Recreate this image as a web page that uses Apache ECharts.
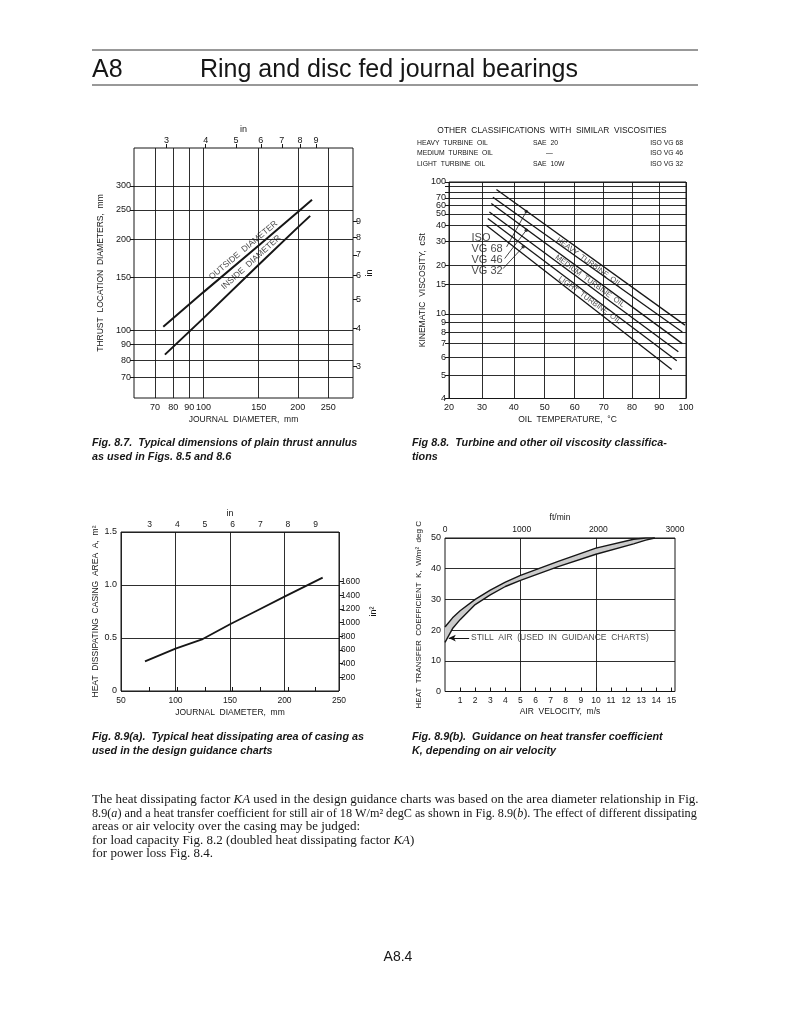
<!DOCTYPE html>
<html><head><meta charset="utf-8">
<script src="https://cdn.jsdelivr.net/npm/echarts@6/dist/echarts.min.js"></script>
<style>html,body{margin:0;padding:0;background:#fff}#c{width:797px;height:1024px}</style>
</head><body><div id="c"></div>
<script>
// ---------- Fig. 8.7 : thrust annulus (log-log) ----------
const f87_xTicks = [70, 80, 90, 100, 150, 200, 250];
const f87_yTicks = [70, 80, 90, 100, 150, 200, 250, 300];
const f87_inchTicks = [3, 4, 5, 6, 7, 8, 9];
const f87_outsideJournal = [74.4, 100, 150, 200, 222];
const f87_outsideDia = [103, 134, 191, 246, 270];
const f87_insideJournal = [75.3, 100, 150, 200, 219];
const f87_insideDia = [83.4, 110, 165, 219, 239];

// ---------- Fig. 8.8 : viscosity (ASTM chart) ----------
const f88_tempTicks = [20, 30, 40, 50, 60, 70, 80, 90, 100];
const f88_viscTicks = [4, 5, 6, 7, 8, 9, 10, 15, 20, 30, 40, 50, 60, 70, 80, 90, 100];
const f88_viscLabels = [4, 5, 6, 7, 8, 9, 10, 15, 20, 30, 40, 50, 60, 70, 100];
const f88_heavyUpper = [[34.5, 84], [99.6, 8.7]];
const f88_heavyLower = [[33.4, 71], [98.6, 8.0]];
const f88_mediumUpper = [[32.9, 62], [98.6, 7.0]];
const f88_mediumLower = [[32.3, 52], [97.1, 6.4]];
const f88_lightUpper = [[31.8, 45.6], [96.5, 5.8]];
const f88_lightLower = [[31.3, 40], [94.6, 5.3]];
const f88_isoDots = [[44, 52.5], [44, 36.5], [43, 27.1]];
const f88_leaderStarts = [[37.7, 27.1], [37.1, 22.3], [36.6, 19.0]];

// ---------- Fig. 8.9(a) : casing area ----------
const f89a_journal = [72, 100, 125, 150, 175, 200, 235];
const f89a_area = [0.28, 0.40, 0.49, 0.63, 0.76, 0.89, 1.07];
const f89a_inchTicks = [3, 4, 5, 6, 7, 8, 9];
const f89a_in2Ticks = [200, 400, 600, 800, 1000, 1200, 1400, 1600];

// ---------- Fig. 8.9(b) : heat transfer coefficient ----------
const f89b_velocity = [0, 0.5, 1, 2, 3, 4, 5, 7.5, 10, 12.5, 13.3, 13.9];
const f89b_upper = [21, 24, 26.3, 30, 33, 35.6, 37.8, 42.4, 46.7, 49.6, 50, 50];
const f89b_lower = [16, 20.5, 23.4, 28.3, 31.5, 34.2, 36.2, 40.7, 44.7, 48.1, 49.3, 50];
const f89b_velTicks = [1, 2, 3, 4, 5, 6, 7, 8, 9, 10, 11, 12, 13, 14, 15];
const f89b_gridVel = [5, 10];

// ---------- helpers ----------
const lg = Math.log10;
const fT = t => lg(t + 273.15);
const fV = v => lg(lg(v + 0.7));
const invT = x => Math.pow(10, x) - 273.15;
const invV = y => Math.pow(10, Math.pow(10, y)) - 0.7;
const MM_PER_IN = 25.4, IN2_PER_M2 = 1550, M_S_MAX = 15.24;

const ink = '#161616';
const SANS = '"Liberation Sans", Arial, sans-serif';
const SERIF = '"Liberation Serif", "Times New Roman", serif';
const lab = (fs) => ({color: ink, fontSize: fs, fontFamily: SANS});
const gl = {show: true, lineStyle: {color: ink, width: 0.9}};

const xAxes = [], yAxes = [];
const addX = o => (xAxes.push(o), xAxes.length - 1);
const addY = o => (yAxes.push(o), yAxes.length - 1);

// Chart 1 axes
const c1x = addX({gridIndex: 0, type: 'value', position: 'bottom', min: lg(60), max: lg(300),
  axisLine: {show: false}, axisTick: {show: false, customValues: f87_xTicks.map(lg)},
  axisLabel: Object.assign({customValues: f87_xTicks.map(lg), margin: 5, formatter: v => String(Math.round(Math.pow(10, v)))}, lab(9)),
  splitLine: gl, name: 'JOURNAL  DIAMETER,  mm', nameLocation: 'middle', nameGap: 17, nameTextStyle: lab(8.5)});
addX({gridIndex: 0, type: 'value', position: 'top', min: lg(60), max: lg(300),
  axisLine: {show: false}, axisTick: {show: true, length: 4, customValues: f87_inchTicks.map(i => lg(i * MM_PER_IN)), lineStyle: {color: ink}},
  axisLabel: Object.assign({customValues: f87_inchTicks.map(i => lg(i * MM_PER_IN)), margin: 3, formatter: v => String(Math.round(Math.pow(10, v) / MM_PER_IN))}, lab(9)),
  splitLine: {show: false}, name: 'in', nameLocation: 'middle', nameGap: 14, nameTextStyle: lab(9)});
const c1y = addY({gridIndex: 0, type: 'value', position: 'left', min: lg(60), max: lg(400),
  axisLine: {show: false}, axisTick: {show: true, length: 4, customValues: f87_yTicks.map(lg), lineStyle: {color: ink}},
  axisLabel: Object.assign({customValues: f87_yTicks.map(lg), margin: 3, formatter: v => String(Math.round(Math.pow(10, v)))}, lab(9)),
  splitLine: gl, name: 'THRUST  LOCATION  DIAMETERS,  mm', nameLocation: 'middle', nameGap: 29, nameTextStyle: lab(8.5)});
addY({gridIndex: 0, type: 'value', position: 'right', min: lg(60), max: lg(400),
  axisLine: {show: false}, axisTick: {show: true, length: 4, customValues: f87_inchTicks.map(i => lg(i * MM_PER_IN)), lineStyle: {color: ink}},
  axisLabel: Object.assign({customValues: f87_inchTicks.map(i => lg(i * MM_PER_IN)), margin: 3, formatter: v => String(Math.round(Math.pow(10, v) / MM_PER_IN))}, lab(9)),
  splitLine: {show: false}, name: 'in', nameLocation: 'middle', nameGap: 8, nameTextStyle: lab(9)});

// Chart 2 axes
const c2x = addX({gridIndex: 1, type: 'value', position: 'bottom', min: fT(20), max: fT(100),
  axisLine: {show: false}, axisTick: {show: false, customValues: f88_tempTicks.map(fT)},
  axisLabel: Object.assign({customValues: f88_tempTicks.map(fT), margin: 5, formatter: v => String(Math.round(invT(v)))}, lab(9)),
  splitLine: gl, name: 'OIL  TEMPERATURE,  \u00b0C', nameLocation: 'middle', nameGap: 17, nameTextStyle: lab(8.5)});
const c2y = addY({gridIndex: 1, type: 'value', position: 'left', min: fV(4), max: fV(100),
  axisLine: {show: false}, axisTick: {show: true, length: 4, customValues: f88_viscTicks.map(fV), lineStyle: {color: ink}},
  axisLabel: Object.assign({customValues: f88_viscLabels.map(fV), margin: 3, formatter: v => String(Math.round(invV(v)))}, lab(9)),
  splitLine: gl, name: 'KINEMATIC  VISCOSITY,  cSt', nameLocation: 'middle', nameGap: 20, nameTextStyle: lab(8.5)});

// Chart 3 axes
const c3x = addX({gridIndex: 2, type: 'value', position: 'bottom', min: 50, max: 250, interval: 50,
  axisLine: {show: false}, axisTick: {show: false},
  axisLabel: Object.assign({margin: 5}, lab(8.5)),
  splitLine: gl, name: 'JOURNAL  DIAMETER,  mm', nameLocation: 'middle', nameGap: 17, nameTextStyle: lab(8.5)});
addX({gridIndex: 2, type: 'value', position: 'top', min: 50, max: 250,
  axisLine: {show: false}, axisTick: {show: true, length: 4, customValues: f89a_inchTicks.map(i => i * MM_PER_IN), lineStyle: {color: ink}},
  axisLabel: Object.assign({customValues: f89a_inchTicks.map(i => i * MM_PER_IN), margin: 3, formatter: v => String(Math.round(v / MM_PER_IN))}, lab(8.5)),
  splitLine: {show: false}, name: 'in', nameLocation: 'middle', nameGap: 14, nameTextStyle: lab(9)});
const c3y = addY({gridIndex: 2, type: 'value', position: 'left', min: 0, max: 1.5, interval: 0.5,
  axisLine: {show: false}, axisTick: {show: false},
  axisLabel: Object.assign({margin: 4, formatter: v => v === 0 ? '0' : v.toFixed(1)}, lab(9)),
  splitLine: gl, name: 'HEAT  DISSIPATING  CASING  AREA  A,  m\u00b2', nameLocation: 'middle', nameGap: 18, nameTextStyle: lab(8.5)});
addY({gridIndex: 2, type: 'value', position: 'right', min: 0, max: 1.5,
  axisLine: {show: false}, axisTick: {show: true, length: 4, customValues: f89a_in2Ticks.map(a => a / IN2_PER_M2), lineStyle: {color: ink}},
  axisLabel: Object.assign({customValues: f89a_in2Ticks.map(a => a / IN2_PER_M2), margin: 2, formatter: v => String(Math.round(v * IN2_PER_M2))}, lab(8.5)),
  splitLine: {show: false}, name: 'in\u00b2', nameLocation: 'middle', nameGap: 30, nameTextStyle: lab(9)});

// Chart 4 axes
const c4x = addX({gridIndex: 3, type: 'value', position: 'bottom', min: 0, max: M_S_MAX,
  axisLine: {show: false}, axisTick: {show: true, inside: true, length: 4, customValues: f89b_velTicks, lineStyle: {color: ink}},
  axisLabel: Object.assign({customValues: f89b_velTicks, margin: 5}, lab(8.5)),
  splitLine: {show: false}, name: 'AIR  VELOCITY,  m/s', nameLocation: 'middle', nameGap: 16, nameTextStyle: lab(8.5)});
addX({gridIndex: 3, type: 'value', position: 'bottom', min: 0, max: M_S_MAX,
  axisLine: {show: false}, axisTick: {show: false, customValues: f89b_gridVel}, axisLabel: {show: false},
  splitLine: gl});
addX({gridIndex: 3, type: 'value', position: 'top', min: 0, max: 3000, interval: 1000,
  axisLine: {show: false}, axisTick: {show: false},
  axisLabel: Object.assign({margin: 4, formatter: v => String(v)}, lab(8.5)),
  splitLine: {show: false}, name: 'ft/min', nameLocation: 'middle', nameGap: 16, nameTextStyle: lab(8.5)});
const c4y = addY({gridIndex: 3, type: 'value', position: 'left', min: 0, max: 50, interval: 10,
  axisLine: {show: false}, axisTick: {show: false},
  axisLabel: Object.assign({margin: 4}, lab(9)),
  splitLine: gl, name: 'HEAT  TRANSFER  COEFFICIENT  K,  W/m\u00b2  deg C', nameLocation: 'middle', nameGap: 22, nameTextStyle: lab(8)});

// ---------- series ----------
const blackLine = (xi, yi, data, w) => ({type: 'line', xAxisIndex: xi, yAxisIndex: yi, data, symbol: 'none', silent: true,
  lineStyle: {color: ink, width: w}, z: 5});
const textAt = (xi, yi, pt, text, fs, rot, pos) => ({type: 'scatter', xAxisIndex: xi, yAxisIndex: yi, data: [pt], symbolSize: 0, silent: true, z: 6,
  label: {show: true, formatter: text, rotate: rot || 0, position: pos || 'inside', distance: 0, color: ink, fontSize: fs, fontFamily: SANS}});

const series = [];
// Fig 8.7
series.push(blackLine(c1x, c1y, f87_outsideJournal.map((x, i) => [lg(x), lg(f87_outsideDia[i])]), 2));
series.push(blackLine(c1x, c1y, f87_insideJournal.map((x, i) => [lg(x), lg(f87_insideDia[i])]), 2));
series.push(textAt(c1x, c1y, [lg(134), lg(184)], 'OUTSIDE  DIAMETER', 8.5, 40));
series.push(textAt(c1x, c1y, [lg(142), lg(168)], 'INSIDE  DIAMETER', 8.5, 42));
// Fig 8.8
const toAstm = arr => arr.map(p => [fT(p[0]), fV(p[1])]);
[f88_heavyUpper, f88_heavyLower, f88_mediumUpper, f88_mediumLower, f88_lightUpper, f88_lightLower]
  .forEach(l => series.push(blackLine(c2x, c2y, toAstm(l), 1.3)));
f88_isoDots.forEach((d, i) => series.push(blackLine(c2x, c2y, toAstm([f88_leaderStarts[i], d]), 0.8)));
series.push({type: 'scatter', xAxisIndex: c2x, yAxisIndex: c2y, data: toAstm(f88_isoDots), symbolSize: 3.5, silent: true, itemStyle: {color: ink}, z: 6});
const isoLabels = [['ISO', 31.8], ['VG 68', 26.1], ['VG 46', 21.7], ['VG 32', 18.2]];
isoLabels.forEach(l => series.push(textAt(c2x, c2y, [fT(26.8), fV(l[1])], l[0], 11, 0, 'right')));
series.push(textAt(c2x, c2y, [fT(64.9), fV(21.0)], 'HEAVY  TURBINE  OIL', 7.5, -36));
series.push(textAt(c2x, c2y, [fT(65.2), fV(15.7)], 'MEDIUM  TURBINE  OIL', 7.5, -36));
series.push(textAt(c2x, c2y, [fT(65.2), fV(12.0)], 'LIGHT  TURBINE  OIL', 7.5, -36));
// Fig 8.9a
series.push(blackLine(c3x, c3y, f89a_journal.map((x, i) => [x, f89a_area[i]]), 1.8));
// Fig 8.9b : shaded band between the two bounding curves
series.push({type: 'custom', xAxisIndex: c4x, yAxisIndex: c4y, silent: true, z: 4, clip: true,
  data: f89b_velocity.map((x, i) => [x, f89b_upper[i], f89b_lower[i]]),
  renderItem: (params, api) => {
    if (params.dataIndex !== 0) return null;
    const up = f89b_velocity.map((x, i) => api.coord([x, f89b_upper[i]]));
    const lo = f89b_velocity.map((x, i) => api.coord([x, f89b_lower[i]])).reverse();
    return {type: 'polygon', shape: {points: up.concat(lo)}, style: {fill: '#cbcbcb', stroke: 'none'}};
  }});
series.push(blackLine(c4x, c4y, f89b_velocity.map((x, i) => [x, f89b_upper[i]]), 1.4));
series.push(Object.assign(blackLine(c4x, c4y, f89b_velocity.map((x, i) => [x, f89b_lower[i]]), 1.4), {
  markLine: {silent: true, symbol: ['none', 'arrow'], symbolSize: [5, 7], label: {show: false},
    lineStyle: {color: ink, width: 1, type: 'solid'}, data: [[{coord: [1.6, 17.4]}, {coord: [0.25, 17.4]}]]}}));
series.push(textAt(c4x, c4y, [1.72, 17.4], 'STILL  AIR  (USED  IN  GUIDANCE  CHARTS)', 8.5, 0, 'right'));

// ---------- page text ----------
const T = (x, y, text, font, align, extra) => Object.assign({type: 'text', x, y, silent: true,
  style: Object.assign({text, font, fill: ink, align: align || 'left', verticalAlign: 'middle', textAlign: align || 'left', textVerticalAlign: 'middle'}, extra || {})});
const capFont = 'italic bold 10.8px ' + SANS;
const parFont = '13px ' + SERIF;
const parFont2 = '12.2px ' + SERIF;
const richI = {rich: {i: {fontStyle: 'italic', font: 'italic 13px ' + SERIF, fill: ink}}};
const richI2 = {rich: {i: {fontStyle: 'italic', font: 'italic 12.2px ' + SERIF, fill: ink}}};
const graphic = [
  {type: 'line', silent: true, shape: {x1: 92, y1: 50, x2: 698, y2: 50}, style: {stroke: '#333', lineWidth: 1}},
  {type: 'line', silent: true, shape: {x1: 92, y1: 85, x2: 698, y2: 85}, style: {stroke: '#333', lineWidth: 1}},
  T(92, 70, 'A8', '25px ' + SANS),
  T(200, 70, 'Ring and disc fed journal bearings', '25px ' + SANS),
  T(552, 131, 'OTHER  CLASSIFICATIONS  WITH  SIMILAR  VISCOSITIES', '8.4px ' + SANS, 'center'),
  T(417, 143, 'HEAVY  TURBINE  OIL', '6.8px ' + SANS), T(533, 143, 'SAE  20', '6.8px ' + SANS), T(683, 143, 'ISO VG 68', '6.8px ' + SANS, 'right'),
  T(417, 153.5, 'MEDIUM  TURBINE  OIL', '6.8px ' + SANS), T(546, 153.5, '\u2014', '6.8px ' + SANS), T(683, 153.5, 'ISO VG 46', '6.8px ' + SANS, 'right'),
  T(417, 164, 'LIGHT  TURBINE  OIL', '6.8px ' + SANS), T(533, 164, 'SAE  10W', '6.8px ' + SANS), T(683, 164, 'ISO VG 32', '6.8px ' + SANS, 'right'),
  T(92, 443, 'Fig. 8.7.  Typical dimensions of plain thrust annulus', capFont),
  T(92, 457, 'as used in Figs. 8.5 and 8.6', capFont),
  T(412, 443, 'Fig 8.8.  Turbine and other oil viscosity classifica-', capFont),
  T(412, 457, 'tions', capFont),
  T(92, 737, 'Fig. 8.9(a).  Typical heat dissipating area of casing as', capFont),
  T(92, 751, 'used in the design guidance charts', capFont),
  T(412, 737, 'Fig. 8.9(b).  Guidance on heat transfer coefficient', capFont),
  T(412, 751, 'K, depending on air velocity', capFont),
  T(92, 800, 'The heat dissipating factor {i|KA} used in the design guidance charts was based on the area diameter relationship in Fig.', parFont, 'left', richI),
  T(92, 813.5, '8.9({i|a}) and a heat transfer coefficient for still air of 18 W/m\u00b2 degC as shown in Fig. 8.9({i|b}). The effect of different dissipating', parFont2, 'left', richI2),
  T(92, 827, 'areas or air velocity over the casing may be judged:', parFont),
  T(92, 840.5, 'for load capacity Fig. 8.2 (doubled heat dissipating factor {i|KA})', parFont, 'left', richI),
  T(92, 854, 'for power loss Fig. 8.4.', parFont),
  T(398, 957, 'A8.4', '14px ' + SANS, 'center')
];

const gridBase = {show: true, borderColor: ink, borderWidth: 1, backgroundColor: 'transparent', containLabel: false, outerBoundsMode: 'none'};
const chart = echarts.init(document.getElementById('c'), null, {renderer: 'canvas', width: 797, height: 1024});
chart.setOption({
  animation: false,
  backgroundColor: '#ffffff',
  grid: [
    Object.assign({left: 134, top: 148, width: 219, height: 250}, gridBase),
    Object.assign({left: 449, top: 182, width: 237, height: 216.5}, gridBase),
    Object.assign({left: 121, top: 532, width: 218, height: 159}, gridBase),
    Object.assign({left: 445, top: 538, width: 230, height: 153.5}, gridBase)
  ],
  xAxis: xAxes,
  yAxis: yAxes,
  series,
  graphic
});
</script></body></html>
